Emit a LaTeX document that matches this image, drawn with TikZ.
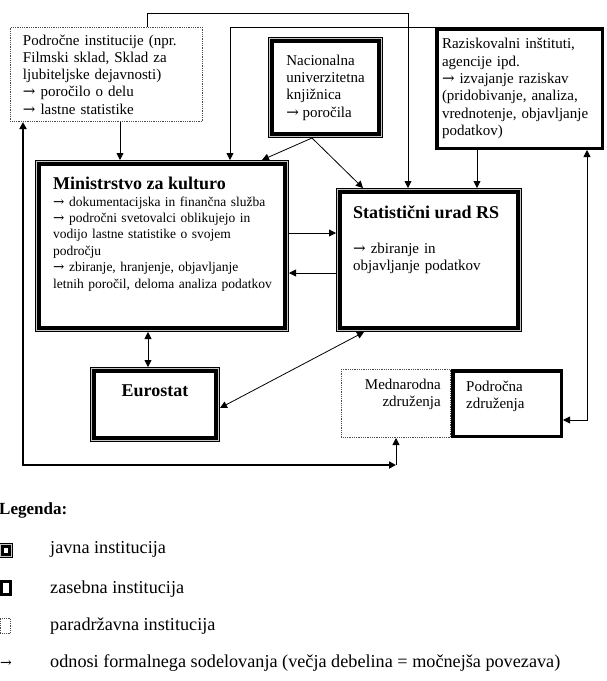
\documentclass[tikz,border=0pt]{standalone}
\usepackage{fontspec}
\setmainfont{Liberation Serif}
\newfontfamily\puscfont{DejaVu Serif}
\newcommand{\pusc}{{\puscfont →}}
\usetikzlibrary{arrows.meta,positioning,calc}
\tikzset{
  javna/.style={draw, fill=white, line width=#1, outer sep=1.075*#1, inner sep=0pt,
                preaction={draw, line width=2.15*#1},
                preaction={draw=black!22, line width=1.75*#1}},
  javna/.default=4pt,
  zasebna/.style={draw, fill=white, line width=#1, inner sep=0pt},
  zasebna/.default=3.5pt,
  paradrz/.style={draw=black!70, densely dotted, line width=0.8pt, inner sep=0pt},
  besedilo/.style={font=\fontsize{15}{17.3}\selectfont, align=left, inner sep=0pt},
  naslov/.style={font=\bfseries\fontsize{18}{20}\selectfont, inner sep=0pt},
  legtxt/.style={font=\fontsize{18.2}{20}\selectfont, inner sep=0pt, anchor=base west},
  arr/.style={-{Triangle[length=7pt,width=7pt]}, line width=0.8pt},
  darr/.style={{Triangle[length=7pt,width=7pt]}-{Triangle[length=7pt,width=7pt]}, line width=0.8pt},
}
\begin{document}
\begin{tikzpicture}[x=1pt, y=-1pt]
  \useasboundingbox (0,0) rectangle (607,681);
  % institucije
  \node[paradrz, besedilo, text width=167pt, minimum width=192.2pt, minimum height=94.2pt, anchor=north west] (pi) at (10,27)
    {Področne institucije (npr.\\Filmski sklad, Sklad za\\ljubiteljske dejavnosti)\\\pusc{} poročilo o delu\\\pusc{} lastne statistike};
  \node[javna, besedilo, minimum width=106.4pt, minimum height=92.4pt, anchor=north west] (nuk) at (268,37)
    {Nacionalna\\univerzitetna\\knjižnica\\\pusc{} poročila};
  \node[zasebna, besedilo, text width=155pt, minimum width=165.5pt, minimum height=119.5pt, anchor=north west] (raz) at (435,27)
    {Raziskovalni inštituti,\\agencije ipd.\\\pusc{} izvajanje raziskav\\(pridobivanje, analiza,\\vrednotenje, objavljanje\\podatkov)};
  \node[javna, minimum width=245.4pt, minimum height=163.4pt, anchor=north west] (mk) at (35,160) {};
  \node[naslov, anchor=base west] (mkN) at ($(mk.north west)+(18,29)$) {Ministrstvo za kulturo};
  \node[besedilo, font=\fontsize{13.5}{16.4}\selectfont, text width=230pt, anchor=base west] (mkB) at ($(mk.north west)+(18,46)$)
    {\pusc{} dokumentacijska in finančna služba\\\pusc{} področni svetovalci oblikujejo in\\vodijo lastne statistike o svojem\\področju\\\pusc{} zbiranje, hranjenje, objavljanje\\letnih poročil, deloma analiza podatkov};
  \node[javna, minimum width=177.4pt, minimum height=135.4pt, anchor=north west] (surs) at (336,188) {};
  \node[naslov, anchor=base west] (sursN) at ($(surs.north west)+(17,30)$) {Statistični urad RS};
  \node[besedilo, text width=150pt, anchor=base west] (sursB) at ($(surs.north west)+(17,65)$) {\pusc{} zbiranje in\\objavljanje podatkov};
  \node[javna, minimum width=121.4pt, minimum height=66.4pt, anchor=north west] (eu) at (90,367) {};
  \node[naslov, anchor=base] (euN) at ($(eu.north)+(0,29)$) {Eurostat};
  \node[paradrz, minimum width=109.2pt, minimum height=68.2pt, anchor=north west] (mz) at (341,369) {};
  \node[besedilo, align=right, text width=90pt, anchor=base east] (mzB) at ($(mz.north east)+(-10,20)$) {Mednarodna\\združenja};
  \node[zasebna, minimum width=108.5pt, minimum height=65.5pt, anchor=north west] (pz) at (451,369) {};
  \node[besedilo, text width=90pt, anchor=base west] (pzB) at ($(pz.north west)+(15,22)$) {Področna\\združenja};

  % prelomi povezav
  \coordinate (k1) at (120,0);
  \coordinate (k2) at (147,13);
  \coordinate (k3) at (408,13);
  \coordinate (k4) at (230,0);
  \coordinate (k5) at (477,0);
  \coordinate (k6) at (262,0);
  \coordinate (k7) at (312,0);
  \coordinate (k8) at (363,0);
  \coordinate (k9) at (0,233);
  \coordinate (k10) at (0,273);
  \coordinate (k11) at (148,0);
  \coordinate (k12) at (364,0);
  \coordinate (k13) at (0,408);
  \coordinate (k14) at (587,0);
  \coordinate (k15) at (0,420);
  \coordinate (k16) at (23,0);
  \coordinate (k17) at (396,465);

  % povezave
  \draw[arr] (pi.south -| k1) -- (mk.north -| k1);
  \draw[arr] (pi.north -| k2) |- (k3) -- (surs.north -| k3);
  \draw[arr] (raz.north west) -| (mk.north -| k4);
  \draw[arr] (nuk.south -| k7) -- (mk.north -| k6);
  \draw[arr] (nuk.south -| k7) -- (surs.north -| k8);
  \draw[arr] (raz.south -| k5) -- (surs.north -| k5);
  \draw[arr] (mk.east |- k9) -- (surs.west |- k9);
  \draw[arr] (surs.west |- k10) -- (mk.east |- k10);
  \draw[darr] (mk.south -| k11) -- (eu.north -| k11);
  \draw[darr] (surs.south -| k12) -- (eu.east |- k13);
  \draw[darr] (raz.south -| k14) |- (pz.east |- k15);
  \draw[darr, line width=2.2pt] (pi.south -| k16) |- (k17);
  \draw[arr] (k17) -- (mz.south -| k17);

  % legenda
  \node[font=\bfseries\fontsize{17}{20}\selectfont, anchor=base west, inner sep=0pt] (leg) at (-1,514) {Legenda:};
  \node[javna=3pt, minimum width=7.6pt, minimum height=8.6pt, anchor=north west] (lj) at (-1,543) {};
  \node[legtxt] (ljT) at (50,553) {javna institucija};
  \node[zasebna=3pt, minimum width=9pt, minimum height=13pt, anchor=north west] (lz) at (0,580) {};
  \node[legtxt] (lzT) at (50,593) {zasebna institucija};
  \node[paradrz, minimum width=10pt, minimum height=15pt, anchor=north west] (lp) at (0,618) {};
  \node[legtxt] (lpT) at (50,630) {paradržavna institucija};
  \node[legtxt, font=\fontsize{14}{16}\puscfont] (lo) at (0,667) {→};
  \node[legtxt] (loT) at (50,667) {odnosi formalnega sodelovanja (večja debelina = močnejša povezava)};
\end{tikzpicture}
\end{document}
